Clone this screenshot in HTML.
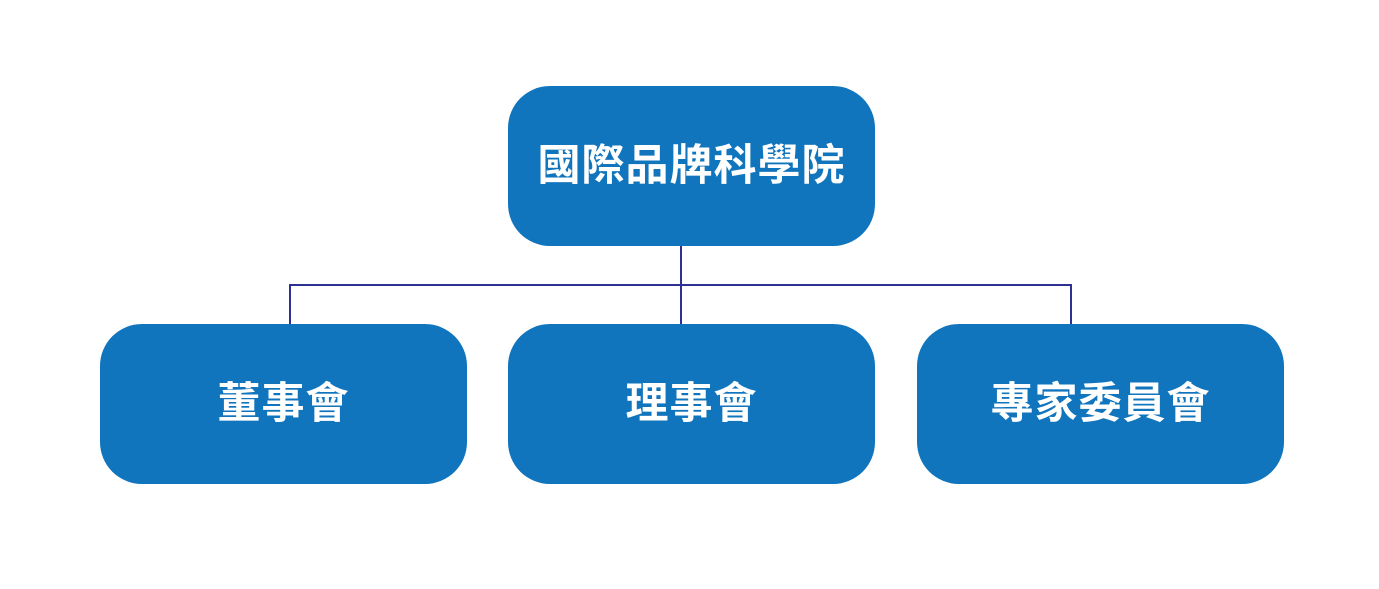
<!DOCTYPE html>
<html><head><meta charset="utf-8"><style>
html,body{margin:0;padding:0;background:#fff;width:1379px;height:589px;overflow:hidden;position:relative}
.b{position:absolute;width:367px;height:160px;border-radius:42px;background:#1175bd;color:#fff;display:flex;align-items:center;justify-content:center;font-family:"Liberation Sans","Noto Sans CJK TC",sans-serif;font-weight:bold;font-size:43px;letter-spacing:1px}
.b span{position:relative;top:-4px}
.l{position:absolute;background:#2e3192}
</style></head><body>
<div class="l" style="left:680px;top:246px;width:2px;height:78px"></div>
<div class="l" style="left:290px;top:284px;width:782px;height:2px"></div>
<div class="l" style="left:289px;top:284px;width:2px;height:40px"></div>
<div class="l" style="left:1070px;top:284px;width:2px;height:40px"></div>
<div class="b" style="left:508px;top:86px"><span>國際品牌科學院</span></div>
<div class="b" style="left:100px;top:324px"><span>董事會</span></div>
<div class="b" style="left:508px;top:324px"><span>理事會</span></div>
<div class="b" style="left:917px;top:324px"><span>專家委員會</span></div>
</body></html>
